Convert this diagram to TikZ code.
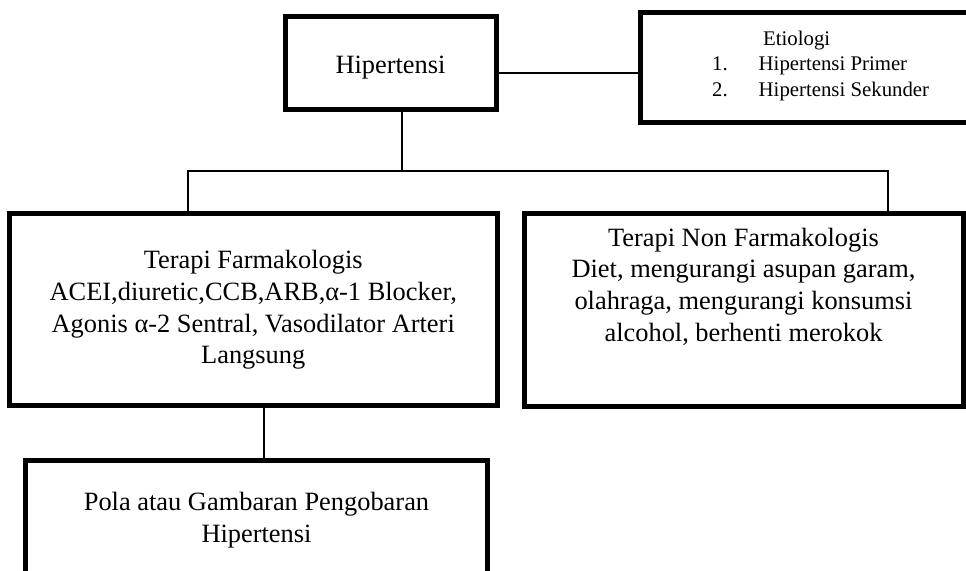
\documentclass[tikz,border=0pt]{standalone}
\usepackage{fontspec}
\setmainfont{Liberation Serif}
\tikzset{
  box/.style={draw, line width=2.5pt, align=center, font=\fontsize{13.2}{15.85}\selectfont},
  txt/.style={align=center, font=\fontsize{13.2}{15.85}\selectfont},
  small/.style={inner sep=0pt, anchor=base west, font=\fontsize{10.4}{13}\selectfont},
  link/.style={line width=0.75pt}
}
\begin{document}
\begin{tikzpicture}[x=0.5pt, y=-0.5pt]
  \useasboundingbox (0,0) rectangle (966,571);
  \node[box, minimum width=105.5pt, minimum height=46.5pt, text height=10.5pt, text depth=0pt] (hip) at (390.5,63.5) {Hipertensi};
  \node[box, minimum width=167.5pt, minimum height=55pt] (etio) at (807.5,67.5) {};
  \node[small, anchor=base] (etiotitle) at (796.7,45.7) {Etiologi};
  \foreach \nm/\lbl [count=\i] in {1./Hipertensi Primer, 2./Hipertensi Sekunder} {
    \node[small] (num\i) at (711.7,{44.4+26.3*\i}) {\nm};
    \node[small] (cause\i) at (758.3,{44.4+26.3*\i}) {\lbl};
  }
  \node[box, minimum width=243.75pt, minimum height=96pt] (farm) at (253.25,310) {Terapi Farmakologis\\ACEI,diuretic,CCB,ARB,α-1 Blocker,\\Agonis α-2 Sentral, Vasodilator Arteri\\Langsung};
  \node[box, minimum width=219.5pt, minimum height=96.5pt] (nonfarm) at (743.5,310.5) {};
  \node[txt] (nonfarmtext) at ([yshift=12pt]nonfarm.center) {Terapi Non Farmakologis\\Diet, mengurangi asupan garam,\\olahraga, mengurangi konsumsi\\alcohol, berhenti merokok};
  \node[box, minimum width=231pt, minimum height=60pt] (pola) at (256.5,520.5) {Pola atau Gambaran Pengobaran\\Hipertensi};
  \coordinate (split) at (402,171);
  \coordinate (jl) at (188,171);
  \coordinate (jr) at (888,171);
  \coordinate (drop) at (264,430);
  \draw[link] ([yshift=-4.75pt]hip.east) -- ([yshift=-4.75pt]hip.east -| etio.west);
  \draw[link] (hip.south -| split) -- (split);
  \draw[link] (jl |- farm.north) -- (jl) -- (jr) -- (jr |- nonfarm.north);
  \draw[link] (farm.south -| drop) -- (pola.north -| drop);
\end{tikzpicture}
\end{document}
